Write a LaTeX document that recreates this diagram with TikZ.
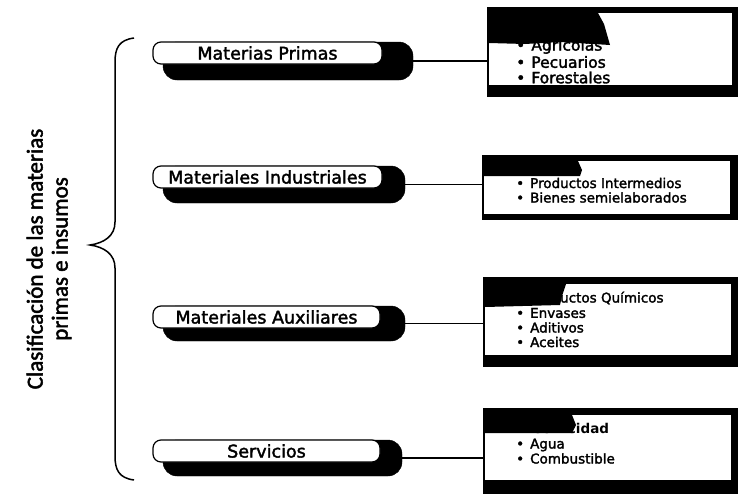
\documentclass[tikz,border=0pt]{standalone}
\usepackage{fontspec}
\setmainfont{DejaVu Sans}
\newfontfamily\scan{DejaVu Sans}[FakeBold=2]
\newfontfamily\carlito{Carlito}[FakeBold=2]
\begin{document}
\begin{tikzpicture}[x=1pt,y=-1pt,
 lbody/.style={fill=black, draw=black, rounded corners=14pt, inner sep=0pt},
 lfront/.style={fill=white, draw=black, line width=1.2pt, rounded corners=8pt, inner sep=0pt, font=\scan\fontsize{17.5}{20}\selectfont},
 rshadow/.style={fill=black, inner sep=0pt, anchor=north west},
 rface/.style={fill=white, inner sep=0pt, anchor=north west},
 item/.style={anchor=west, inner sep=0pt, font=\scan\fontsize{13.5}{15}\selectfont},
 bigitem/.style={anchor=west, inner sep=0pt, font=\scan\fontsize{15.5}{17}\selectfont},
 blob/.style={fill=black},
 link/.style={line width=1.2pt},
 bracestyle/.style={line width=1.5pt}
]
\useasboundingbox (0,0) rectangle (742,493);

% side title
\node[rotate=90, align=center, font=\carlito\fontsize{23}{25}\selectfont] (title) at (49,259) {Clasificación de las materias\\primas e insumos};

% brace
\coordinate (bt) at (134,38);
\coordinate (bb) at (134,480);
\coordinate (tip) at (90,245);
\draw[bracestyle] (bt) .. controls (119,40) and (115,48) .. (115,62) -- (115,222) .. controls (115,236) and (104,243) .. (tip) .. controls (104,247) and (115,254) .. (115,268) -- (115,456) .. controls (115,470) and (119,478) .. (bb);

% left boxes
\node[lbody, minimum width=250pt, minimum height=38pt] (b1) at (288,61) {};
\node[lfront, minimum width=229pt, minimum height=22pt] (f1) at (267.5,53) {Materias Primas};

\node[lbody, minimum width=242pt, minimum height=37pt] (b2) at (284,184.5) {};
\node[lfront, minimum width=229pt, minimum height=22pt] (f2) at (267.5,177) {Materiales Industriales};

\node[lbody, minimum width=242pt, minimum height=35pt] (b3) at (284,323.5) {};
\node[lfront, minimum width=227pt, minimum height=22pt] (f3) at (266.5,317) {Materiales Auxiliares};

\node[lbody, minimum width=239pt, minimum height=36pt] (b4) at (282.5,458) {};
\node[lfront, minimum width=227pt, minimum height=22pt] (f4) at (266.5,451) {Servicios};

% right boxes
\node[rshadow, minimum width=251pt, minimum height=90pt] (r1) at (487,7) {};
\node[rface, minimum width=243pt, minimum height=72pt] (w1) at (489,13) {};
\node[bigitem] (i1a) at (516,46) {•\hspace{6pt}Agrícolas};
\node[bigitem] (i1b) at (516,62) {•\hspace{6pt}Pecuarios};
\node[bigitem] (i1c) at (516,77.5) {•\hspace{6pt}Forestales};
\fill[blob] (489,13) -- (598,13) -- (604,24) -- (610,45) -- (560,42) -- (525,44) -- (489,43) -- cycle;

\node[rshadow, minimum width=256pt, minimum height=65pt] (r2) at (482,155) {};
\node[rface, minimum width=246pt, minimum height=53pt] (w2) at (484,161) {};
\node[item] (i2a) at (516,183) {•\hspace{6pt}Productos Intermedios};
\node[item] (i2b) at (516,197.5) {•\hspace{6pt}Bienes semielaborados};
\fill[blob] (484,161) -- (578,161) -- (582,170) -- (580,176) -- (484,176) -- cycle;

\node[rshadow, minimum width=255pt, minimum height=90pt] (r3) at (483,277) {};
\node[rface, minimum width=246pt, minimum height=71pt] (w3) at (485,284) {};
\node[item] (i3a) at (516,298) {\phantom{•}\hspace{6pt}Productos Químicos};
\node[item] (i3b) at (516,313) {•\hspace{6pt}Envases};
\node[item] (i3c) at (516,327.5) {•\hspace{6pt}Aditivos};
\node[item] (i3d) at (516,342) {•\hspace{6pt}Aceites};
\fill[blob] (485,284) -- (566,284) -- (562,296) -- (560,305) -- (485,307) -- cycle;

\node[rshadow, minimum width=255pt, minimum height=86pt] (r4) at (483,408) {};
\node[rface, minimum width=246pt, minimum height=65pt] (w4) at (485,415) {};
\node[item, font=\bfseries\fontsize{13.5}{15}\selectfont] (i4a) at (519,428) {Electricidad};
\node[item] (i4b) at (516,445) {•\hspace{6pt}Agua};
\node[item] (i4c) at (516,458.5) {•\hspace{6pt}Combustible};
\fill[blob] (485,415) -- (572,415) -- (576,425) -- (572,433) -- (485,433) -- cycle;

% connectors
\draw[link] (b1.east) -- (b1.east -| r1.west);
\draw[link] (b2.east) -- (b2.east -| r2.west);
\draw[link] (b3.east) -- (b3.east -| r3.west);
\draw[link] (b4.east) -- (b4.east -| r4.west);
\end{tikzpicture}
\end{document}
